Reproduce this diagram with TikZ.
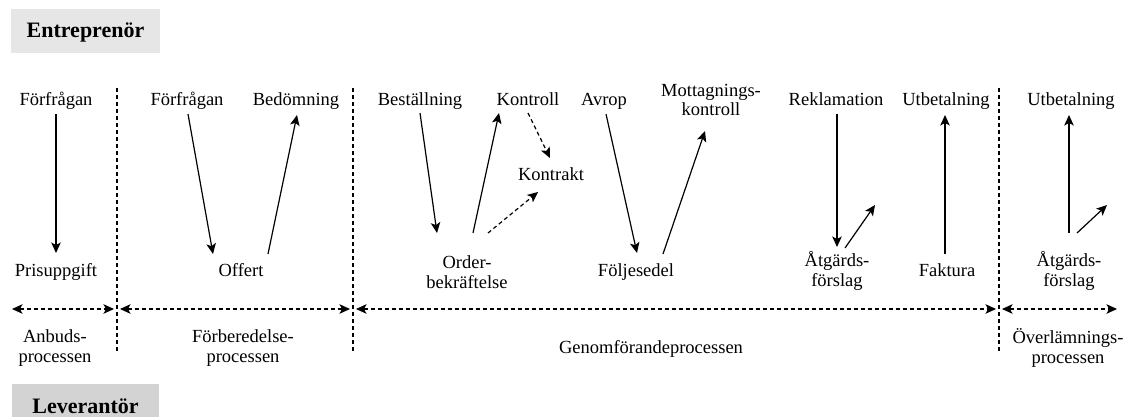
\documentclass[tikz,border=0pt]{standalone}
\usepackage{fontspec}
\setmainfont{Liberation Serif}
\usetikzlibrary{arrows.meta}
\definecolor{hdrlight}{RGB}{230,230,230}
\definecolor{hdrdark}{RGB}{211,211,211}
\tikzset{
  lbl/.style={font=\fontsize{18.5}{19.5}\selectfont, inner sep=0pt, align=center},
  one/.style={lbl, anchor=base},
  two/.style={lbl, anchor=center},
  hdr/.style={font=\bfseries\fontsize{22}{24}\selectfont, inner sep=0pt,
    minimum height=44pt, text height=14pt, text depth=0pt},
  flow/.style={line width=1.2pt, -{Stealth[length=10.5pt,width=9.5pt,inset=2.5pt]}},
  dflow/.style={flow, dash pattern=on 4pt off 3pt},
  divider/.style={line width=1.1pt, dash pattern=on 4pt off 3pt},
  span/.style={line width=1.1pt, dash pattern=on 4pt off 3pt,
    {Stealth[length=10.5pt,width=9.5pt,inset=2.5pt]}-{Stealth[length=10.5pt,width=9.5pt,inset=2.5pt]}},
}
\begin{document}
\begin{tikzpicture}[x=1pt,y=-1pt]
\useasboundingbox (0,0) rectangle (1126,417);
\clip (0,0) rectangle (1126,417);

% role headers
\node[hdr, fill=hdrlight, minimum width=149pt] (entr) at (85.5,31) {Entreprenör};
\node[hdr, fill=hdrdark, minimum width=147pt] (lev) at (85.5,406) {Leverantör};

% phase dividers
\coordinate (d1t) at (117,88);  \coordinate (d1b) at (117,353);
\coordinate (d2t) at (353,88);  \coordinate (d2b) at (353,353);
\coordinate (d3t) at (999,88);  \coordinate (d3b) at (999,353);
\draw[divider] (d1t) -- (d1b);
\draw[divider] (d2t) -- (d2b);
\draw[divider] (d3t) -- (d3b);

% phase spans
\coordinate (s0) at (12,309);
\coordinate (s1) at (117,309);
\coordinate (s2) at (353,309);
\coordinate (s3) at (999,309);
\coordinate (s4) at (1117,309);
\draw[span, shorten >=3pt] (s0) -- (s1);
\draw[span, shorten <=3pt, shorten >=3pt] (s1) -- (s2);
\draw[span, shorten <=3pt, shorten >=3pt] (s2) -- (s3);
\draw[span, shorten <=3pt] (s3) -- (s4);

% phase names
\node[two] (anbud) at (55,348) {Anbuds-\\processen};
\node[two] (forb) at (243,348) {Förberedelse-\\processen};
\node[one] (genom) at (651,353) {Genomförandeprocessen};
\node[two] (overl) at (1068,348) {Överlämnings-\\processen};

% contractor side
\node[one] (forf1) at (56,106) {Förfrågan};
\node[one] (forf2) at (187,106) {Förfrågan};
\node[one] (bedom) at (296,106) {Bedömning};
\node[one] (best) at (420,106) {Beställning};
\node[one] (kontroll) at (528,106) {Kontroll};
\node[one] (avrop) at (604,106) {Avrop};
\node[two] (mott) at (711,100) {Mottagnings-\\kontroll};
\node[one] (rekl) at (836,106) {Reklamation};
\node[one] (utb1) at (946,106) {Utbetalning};
\node[one] (utb2) at (1071,106) {Utbetalning};
\node[one] (kontrakt) at (551,180) {Kontrakt};

% supplier side
\node[one] (pris) at (56,276) {Prisuppgift};
\node[one] (offert) at (241,276) {Offert};
\node[two] (order) at (467,272) {Order-\\bekräftelse};
\node[one] (folj) at (636,276) {Följesedel};
\node[two] (atg1) at (837,271) {Åtgärds-\\förslag};
\node[one] (faktura) at (947,276) {Faktura};
\node[two] (atg2) at (1069,271) {Åtgärds-\\förslag};

% free ends of the short follow-up arrows
\coordinate (atg1out) at (875,205);
\coordinate (atg2out) at (1107,205);

% flows
\draw[flow] ([shift={(0,8)}]forf1.base) -- ([shift={(0,-23)}]pris.base);
\draw[flow] ([shift={(1,8)}]forf2.base) -- ([shift={(-28,-22)}]offert.base);
\draw[flow] ([shift={(27,-22)}]offert.base) -- ([shift={(1,9)}]bedom.base);
\draw[flow] ([shift={(0,7)}]best.base) -- ([shift={(-30,-39)}]order.center);
\draw[flow] ([shift={(6,-39)}]order.center) -- ([shift={(-29,7)}]kontroll.base);
\draw[dflow] ([shift={(0,7)}]kontroll.base) -- ([shift={(-1,-22)}]kontrakt.base);
\draw[dflow] ([shift={(21,-39)}]order.center) -- ([shift={(-13,12)}]kontrakt.base);
\draw[flow] ([shift={(2,8)}]avrop.base) -- ([shift={(1,-23)}]folj.base);
\draw[flow] ([shift={(27,-22)}]folj.base) -- ([shift={(-6,31)}]mott.center);
\draw[flow] ([shift={(1,8)}]rekl.base) -- ([shift={(0,-24)}]atg1.center);
\draw[flow] ([shift={(8,-23)}]atg1.center) -- (atg1out);
\draw[flow] ([shift={(-2,-22)}]faktura.base) -- ([shift={(-1,9)}]utb1.base);
\draw[flow] ([shift={(0,-38)}]atg2.center) -- ([shift={(-2,9)}]utb2.base);
\draw[flow] ([shift={(8,-38)}]atg2.center) -- (atg2out);
\end{tikzpicture}
\end{document}
